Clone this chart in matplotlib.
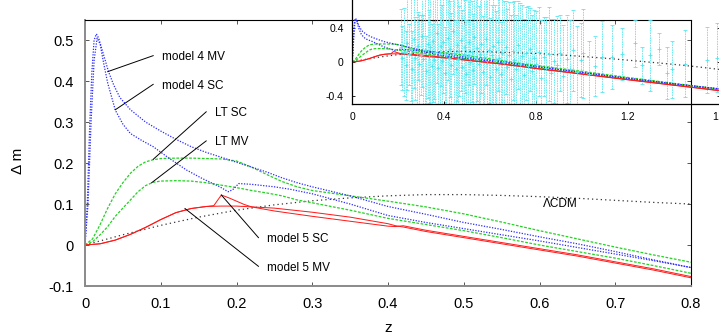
import numpy as np
import matplotlib
matplotlib.use("Agg")
import matplotlib.pyplot as plt

plt.rcParams['font.family'] = ['Liberation Sans', 'DejaVu Sans']

# ---- model curves (z, delta m) ----
m4mv_z = [0, 0.003, 0.006, 0.009, 0.012, 0.015, 0.018, 0.022, 0.026, 0.031, 0.038, 0.046,
          0.06, 0.08, 0.1, 0.12, 0.14, 0.16, 0.18, 0.2, 0.22, 0.24, 0.26, 0.28, 0.3,
          0.35, 0.4, 0.45, 0.5, 0.55, 0.6, 0.65, 0.7, 0.75, 0.8, 0.9, 1.0, 1.2, 1.4, 1.6]
m4mv_dm = [0, 0.1, 0.28, 0.42, 0.5, 0.515, 0.505, 0.48, 0.455, 0.423, 0.39, 0.36,
           0.33, 0.3, 0.278, 0.258, 0.24, 0.226, 0.214, 0.202, 0.19, 0.178, 0.164, 0.152, 0.142,
           0.12, 0.094, 0.075, 0.055, 0.038, 0.02, 0.003, -0.016, -0.036, -0.055,
           -0.09, -0.125, -0.195, -0.26, -0.32]

m4sc_z = [0, 0.004, 0.008, 0.012, 0.016, 0.02, 0.025, 0.03, 0.04, 0.05, 0.06, 0.075,
          0.09, 0.11, 0.134, 0.155, 0.178, 0.189, 0.195, 0.203, 0.22, 0.25, 0.271, 0.3,
          0.35, 0.4, 0.45, 0.5, 0.55, 0.6, 0.65, 0.7, 0.75, 0.8, 0.9, 1.0, 1.2, 1.4, 1.6]
m4sc_dm = [0, 0.1, 0.3, 0.45, 0.505, 0.49, 0.44, 0.395, 0.329, 0.295, 0.272, 0.255,
           0.24, 0.213, 0.183, 0.162, 0.142, 0.13, 0.135, 0.15, 0.148, 0.142, 0.136, 0.125,
           0.1, 0.072, 0.055, 0.04, 0.025, 0.01, -0.006, -0.022, -0.038, -0.055,
           -0.092, -0.127, -0.197, -0.262, -0.322]

ltsc_z = [0, 0.01, 0.02, 0.03, 0.04, 0.05, 0.06, 0.07, 0.08, 0.09, 0.1, 0.12, 0.14,
          0.16, 0.18, 0.2, 0.22, 0.24, 0.26, 0.28, 0.3, 0.35, 0.4, 0.45, 0.5, 0.55,
          0.6, 0.65, 0.7, 0.75, 0.8, 0.9, 1.0, 1.2, 1.4, 1.6]
ltsc_dm = [0, 0.015, 0.05, 0.09, 0.125, 0.152, 0.175, 0.192, 0.203, 0.208, 0.211, 0.212, 0.212,
           0.211, 0.21, 0.205, 0.19, 0.172, 0.155, 0.142, 0.133, 0.12, 0.107, 0.093, 0.076, 0.056,
           0.035, 0.015, -0.005, -0.024, -0.042, -0.077, -0.112, -0.185, -0.255, -0.322]

ltmv_z = [0, 0.01, 0.02, 0.03, 0.04, 0.05, 0.06, 0.07, 0.08, 0.09, 0.1, 0.12, 0.14,
          0.16, 0.18, 0.2, 0.22, 0.24, 0.26, 0.28, 0.3, 0.35, 0.4, 0.45, 0.5, 0.55,
          0.6, 0.65, 0.7, 0.75, 0.8, 0.9, 1.0, 1.2, 1.4, 1.6]
ltmv_dm = [0, 0.008, 0.025, 0.045, 0.07, 0.09, 0.11, 0.13, 0.145, 0.153, 0.156, 0.157, 0.156,
           0.152, 0.146, 0.14, 0.133, 0.127, 0.12, 0.11, 0.103, 0.085, 0.065, 0.05, 0.035, 0.018,
           0.0, -0.016, -0.032, -0.05, -0.069, -0.103, -0.137, -0.205, -0.27, -0.335]

m5sc_z = [0, 0.02, 0.04, 0.06, 0.08, 0.1, 0.12, 0.14, 0.16, 0.17, 0.18, 0.19, 0.2,
          0.21, 0.22, 0.25, 0.3, 0.35, 0.4, 0.41, 0.42, 0.45, 0.5, 0.55, 0.6, 0.65,
          0.7, 0.75, 0.8, 0.9, 1.0, 1.2, 1.4, 1.6]
m5sc_dm = [0, 0.003, 0.012, 0.026, 0.043, 0.062, 0.079, 0.089, 0.094, 0.096, 0.122, 0.115, 0.107,
           0.099, 0.093, 0.083, 0.07, 0.058, 0.046, 0.045, 0.047, 0.036, 0.021, 0.006, -0.009, -0.024,
           -0.041, -0.058, -0.077, -0.11, -0.143, -0.21, -0.275, -0.34]

m5mv_z = [0, 0.02, 0.04, 0.06, 0.08, 0.1, 0.12, 0.14, 0.16, 0.18, 0.2, 0.22, 0.25,
          0.3, 0.35, 0.4, 0.41, 0.42, 0.45, 0.5, 0.55, 0.6, 0.65, 0.7, 0.75, 0.8,
          0.9, 1.0, 1.2, 1.4, 1.6]
m5mv_dm = [0, 0.003, 0.012, 0.026, 0.043, 0.062, 0.079, 0.089, 0.094, 0.095, 0.095, 0.093, 0.09,
           0.08, 0.068, 0.052, 0.047, 0.044, 0.033, 0.018, 0.003, -0.012, -0.027, -0.044, -0.061, -0.08,
           -0.113, -0.146, -0.213, -0.278, -0.343]

lcdm_z = [0, 0.05, 0.1, 0.15, 0.2, 0.25, 0.3, 0.35, 0.4, 0.45, 0.5, 0.55, 0.6, 0.65,
          0.7, 0.75, 0.8, 0.9, 1.0, 1.1, 1.2, 1.3, 1.4, 1.5, 1.6]
lcdm_dm = [0, 0.025, 0.048, 0.068, 0.085, 0.098, 0.108, 0.115, 0.12, 0.123, 0.123, 0.121, 0.118,
           0.114, 0.109, 0.104, 0.1, 0.083, 0.065, 0.043, 0.02, -0.005, -0.03, -0.058, -0.09]

# ---- supernova points shown in the inset ----
sn_z = [0.212, 0.219, 0.228, 0.236, 0.241, 0.249, 0.257, 0.263, 0.268, 0.274, 0.281, 0.288,
        0.293, 0.299, 0.304, 0.311, 0.318, 0.322, 0.329, 0.335, 0.341, 0.347, 0.352, 0.358,
        0.363, 0.369, 0.374, 0.381, 0.387, 0.392, 0.398, 0.404, 0.411, 0.417, 0.422, 0.428,
        0.433, 0.439, 0.446, 0.451, 0.457, 0.462, 0.468, 0.474, 0.479, 0.486, 0.491, 0.497,
        0.503, 0.509, 0.514, 0.521, 0.526, 0.532, 0.538, 0.545, 0.551, 0.557, 0.563, 0.569,
        0.576, 0.582, 0.588, 0.595, 0.601, 0.608, 0.614, 0.621, 0.627, 0.634, 0.641, 0.648,
        0.655, 0.662, 0.669, 0.677, 0.684, 0.692, 0.699, 0.707, 0.715, 0.723, 0.731, 0.740,
        0.748, 0.757, 0.766, 0.775, 0.784, 0.794, 0.803, 0.813, 0.823, 0.834, 0.845, 0.856,
        0.868, 0.880, 0.893, 0.906, 0.920, 0.935, 0.951, 0.963, 0.978, 0.995, 1.007, 1.03,
        1.06, 1.09, 1.13, 1.175, 1.233, 1.262, 1.298, 1.338, 1.371, 1.393, 1.451, 1.545, 1.589]
sn_dm = [0.18, 0.05, 0.12, -0.04, 0.22, 0.09, 0.15, -0.08, 0.27, 0.04, 0.11, 0.19,
         -0.02, 0.08, 0.31, 0.03, 0.14, -0.11, 0.21, 0.06, 0.17, -0.05, 0.25, 0.02,
         0.12, 0.34, -0.07, 0.10, 0.19, 0.01, 0.23, -0.13, 0.08, 0.28, 0.05, 0.15,
         -0.04, 0.36, 0.11, -0.09, 0.20, 0.03, 0.13, 0.26, -0.06, 0.09, 0.18, -0.15,
         0.07, 0.24, 0.0, 0.12, -0.10, 0.30, 0.04, 0.16, -0.03, 0.09, 0.21, -0.12,
         0.06, 0.27, -0.01, 0.14, -0.18, 0.08, 0.19, 0.02, -0.08, 0.23, 0.05, -0.14,
         0.11, 0.0, 0.17, -0.06, 0.08, -0.20, 0.13, 0.02, -0.09, 0.20, -0.03, 0.07,
         -0.16, 0.10, -0.05, 0.15, -0.11, 0.04, -0.02, 0.12, -0.19, 0.06, -0.07, 0.09,
         -0.13, 0.01, -0.04, 0.11, -0.17, 0.03, -0.08, 0.14, -0.12, 0.02, 0.10, -0.15,
         -0.05, 0.06, 0.06, 0.09, 0.22, -0.04, 0.08, 0.15, -0.13, -0.09, -0.02, 0.02, 0.05]
sn_err = [0.45, 0.38, 0.52, 0.41, 0.55, 0.36, 0.62, 0.44, 0.58, 0.49, 0.66, 0.40,
          0.57, 0.47, 0.61, 0.53, 0.70, 0.42, 0.64, 0.55, 0.68, 0.50, 0.73, 0.46,
          0.63, 0.59, 0.52, 0.71, 0.48, 0.66, 0.60, 0.54, 0.75, 0.49, 0.69, 0.57,
          0.62, 0.51, 0.74, 0.58, 0.66, 0.72, 0.53, 0.61, 0.68, 0.77, 0.55, 0.64,
          0.70, 0.52, 0.79, 0.60, 0.67, 0.56, 0.73, 0.62, 0.69, 0.80, 0.58, 0.66,
          0.71, 0.54, 0.76, 0.63, 0.70, 0.59, 0.74, 0.65, 0.68, 0.57, 0.78, 0.61,
          0.66, 0.72, 0.55, 0.69, 0.63, 0.75, 0.58, 0.70, 0.64, 0.52, 0.73, 0.60,
          0.67, 0.55, 0.71, 0.49, 0.66, 0.58, 0.62, 0.53, 0.69, 0.47, 0.60, 0.56,
          0.64, 0.50, 0.58, 0.45, 0.61, 0.52, 0.57, 0.48, 0.55, 0.44, 0.53, 0.40,
          0.36, 0.42, 0.38, 0.31, 0.28, 0.22, 0.42, 0.19, 0.31, 0.34, 0.40, 0.39, 0.41]

xticks_main = [0, 0.1, 0.2, 0.3, 0.4, 0.5, 0.6, 0.7, 0.8]
xlabels_main = ['0', '0.1', '0.2', '0.3', '0.4', '0.5', '0.6', '0.7', '0.8']
yticks_main = [-0.1, 0, 0.1, 0.2, 0.3, 0.4, 0.5]
ylabels_main = ['-0.1', '0', '0.1', '0.2', '0.3', '0.4', '0.5']
xticks_in = [0, 0.4, 0.8, 1.2, 1.6]
xlabels_in = ['0', '0.4', '0.8', '1.2', '1.6']
yticks_in = [-0.4, 0, 0.4]
ylabels_in = ['-0.4', '0', '0.4']

blue, green, red = '#2a2aff', '#22d322', '#ff1a1a'
blue_ls = (0, (1, 1.2))
green_ls = (0, (2.2, 1.2))
lcdm_ls = (0, (1, 2.5))


def draw_curves(ax, lw):
    ax.plot(lcdm_z, lcdm_dm, color='#333333', lw=lw, ls=lcdm_ls)
    ax.plot(ltsc_z, ltsc_dm, color=green, lw=lw, ls=green_ls)
    ax.plot(ltmv_z, ltmv_dm, color=green, lw=lw, ls=green_ls)
    ax.plot(m4mv_z, m4mv_dm, color=blue, lw=lw, ls=blue_ls)
    ax.plot(m4sc_z, m4sc_dm, color=blue, lw=lw, ls=blue_ls)
    ax.plot(m5mv_z, m5mv_dm, color=red, lw=lw * 0.8)
    ax.plot(m5sc_z, m5sc_dm, color=red, lw=lw * 0.8)


fig = plt.figure(figsize=(7.19, 3.36), dpi=100)

# main panel
ax = fig.add_axes([85 / 719, 50 / 336, 606 / 719, 266 / 336])
draw_curves(ax, 0.9)
ax.set_xlim(0, 0.8)
ax.set_ylim(-0.1, 0.549)
ax.set_xticks(xticks_main)
ax.set_xticklabels(xlabels_main)
ax.set_yticks(yticks_main)
ax.set_yticklabels(ylabels_main)
ax.tick_params(direction='in', length=3, width=0.7, top=True, right=True,
               labelsize=10.5, pad=8, color='#555555')
for side in ['left', 'bottom']:
    ax.spines[side].set_color('#8a8a8a')
    ax.spines[side].set_linewidth(1.4)
for side in ['top', 'right']:
    ax.spines[side].set_color('black')
    ax.spines[side].set_linewidth(0.8)
ax.set_xlabel('z', fontsize=11)
ax.xaxis.set_label_coords(0.5, -0.158)
ax.xaxis.label.set_verticalalignment('center')
ax.set_ylabel('Δ m', fontsize=11)
ax.yaxis.set_label_coords(-0.11, 0.47)
ax.yaxis.label.set_verticalalignment('center')

# labels with pointer lines (text anchor, line end on curve)
notes = [
    ('model 4 MV', (0.101, 0.459), (0.030, 0.423)),
    ('model 4 SC', (0.101, 0.389), (0.040, 0.330)),
    ('LT SC', (0.171, 0.322), (0.090, 0.209)),
    ('LT MV', (0.171, 0.251), (0.088, 0.152)),
    ('model 5 SC', (0.240, 0.015), (0.180, 0.122)),
    ('model 5 MV', (0.240, -0.055), (0.132, 0.089)),
]
for label, (tx, ty), (px, py) in notes:
    ax.plot([tx - 0.011, px], [ty + 0.003, py], color='black', lw=0.7)
    ax.text(tx, ty, label, fontsize=8.5, va='center', ha='left')
ax.text(0.604, 0.1, 'ΛCDM', fontsize=8.5, va='center', ha='left')

# inset panel
axin = fig.add_axes([352 / 719, 1 - 104 / 336, 367.5 / 719, 104 / 336])
axin.patch.set_alpha(0)
eb = axin.errorbar(sn_z, sn_dm, yerr=sn_err, fmt='+', ms=3, mew=0.6, color='#4fe6ee',
                   ecolor='#5ae8f0', elinewidth=0.6, capsize=1.5, capthick=0.6)
eb[2][0].set_linestyle((0, (2, 1)))
draw_curves(axin, 0.9)
axin.set_xlim(0, 1.6)
axin.set_ylim(-0.5, 0.733)
axin.set_xticks(xticks_in)
axin.set_xticklabels(xlabels_in)
axin.set_yticks(yticks_in)
axin.set_yticklabels(ylabels_in)
axin.tick_params(direction='in', length=2.5, width=0.6, right=True,
                 labelsize=7.5, pad=6)
axin.spines['top'].set_visible(False)
axin.spines['right'].set_visible(False)
for side in ['left', 'bottom']:
    axin.spines[side].set_linewidth(0.9)

fig.savefig('out.png', dpi=100)
